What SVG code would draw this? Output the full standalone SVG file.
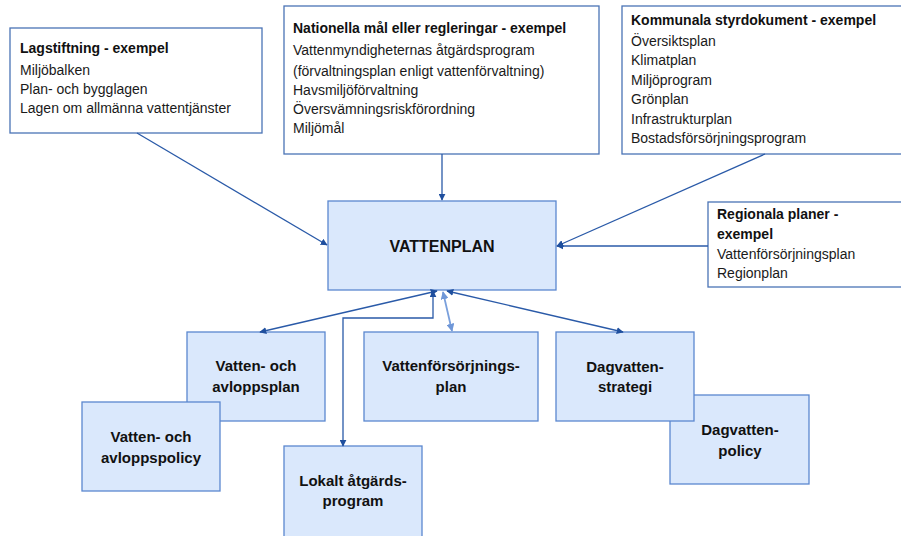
<svg xmlns="http://www.w3.org/2000/svg" width="901" height="536" viewBox="0 0 901 536">
<style>
  .info { fill: #ffffff; stroke: #4a73b5; stroke-width: 1.3; }
  .plan { fill: #dae8fc; stroke: #5b87cf; stroke-width: 1.3; }
  .t { font-family: "Liberation Sans Narrow", "Liberation Sans", Arial, sans-serif; font-size: 14px; fill: #1a1a1a; }
  .tb { font-family: "Liberation Sans Narrow", "Liberation Sans", Arial, sans-serif; font-size: 14px; font-weight: bold; fill: #111; }
  .nb { font-family: "Liberation Sans Narrow", "Liberation Sans", Arial, sans-serif; font-size: 15px; font-weight: bold; fill: #111; text-anchor: middle; }
  .c { fill: none; stroke: #2a5aa8; stroke-width: 1.3; }
  .cl { fill: none; stroke: #7aa0dc; stroke-width: 1.8; }
</style>
<defs>
  <marker id="ah" viewBox="0 0 10 10" refX="9" refY="5" markerWidth="7" markerHeight="7" markerUnits="userSpaceOnUse" orient="auto-start-reverse">
    <path d="M0,0 L10,5 L0,10 z" fill="#1f4f9e"/>
  </marker>
  <marker id="ahl" viewBox="0 0 10 10" refX="9" refY="5" markerWidth="8" markerHeight="8" markerUnits="userSpaceOnUse" orient="auto-start-reverse">
    <path d="M0,0 L10,5 L0,10 z" fill="#6f97d8"/>
  </marker>
</defs>
<rect width="901" height="536" fill="#ffffff"/>

<g id="lagstiftning">
  <rect class="info" x="10" y="28" width="252" height="105"/>
  <text class="tb" x="20" y="53">Lagstiftning  - exempel</text>
  <text class="t" x="20" y="75">Miljöbalken</text>
  <text class="t" x="20" y="94">Plan- och bygglagen</text>
  <text class="t" x="20" y="113">Lagen om allmänna vattentjänster</text>
</g>

<g id="nationella">
  <rect class="info" x="284" y="6" width="315" height="148"/>
  <text class="tb" x="293" y="33">Nationella mål eller regleringar  - exempel</text>
  <text class="t" x="293" y="55">Vattenmyndigheternas åtgärdsprogram</text>
  <text class="t" x="293" y="76">(förvaltningsplan enligt vattenförvaltning)</text>
  <text class="t" x="293" y="95">Havsmiljöförvaltning</text>
  <text class="t" x="293" y="114">Översvämningsriskförordning</text>
  <text class="t" x="293" y="133">Miljömål</text>
</g>

<g id="kommunala">
  <rect class="info" x="622" y="6" width="290" height="148"/>
  <text class="tb" x="631" y="25">Kommunala styrdokument - exempel</text>
  <text class="t" x="631" y="46">Översiktsplan</text>
  <text class="t" x="631" y="65">Klimatplan</text>
  <text class="t" x="631" y="85">Miljöprogram</text>
  <text class="t" x="631" y="104">Grönplan</text>
  <text class="t" x="631" y="124">Infrastrukturplan</text>
  <text class="t" x="631" y="143">Bostadsförsörjningsprogram</text>
</g>

<g id="regionala">
  <rect class="info" x="708" y="202" width="200" height="85"/>
  <text class="tb" x="717" y="219">Regionala  planer -</text>
  <text class="tb" x="717" y="239">exempel</text>
  <text class="t" x="717" y="259">Vattenförsörjningsplan</text>
  <text class="t" x="717" y="278">Regionplan</text>
</g>

<g id="vattenplan">
  <rect class="plan" x="328" y="201" width="228" height="89"/>
  <text class="nb" x="442" y="252" style="font-size:16px">VATTENPLAN</text>
</g>

<g id="va-plan">
  <rect class="plan" x="187" y="332" width="138" height="89"/>
  <text class="nb" x="256" y="371">Vatten- och</text>
  <text class="nb" x="256" y="392">avloppsplan</text>
</g>

<g id="va-policy">
  <rect class="plan" x="82" y="402" width="138" height="89"/>
  <text class="nb" x="151" y="442">Vatten- och</text>
  <text class="nb" x="151" y="463">avloppspolicy</text>
</g>

<g id="vattenforsorjningsplan">
  <rect class="plan" x="364" y="332" width="174" height="89"/>
  <text class="nb" x="451" y="371">Vattenförsörjnings-</text>
  <text class="nb" x="451" y="392">plan</text>
</g>

<g id="lokalt">
  <rect class="plan" x="284" y="446" width="138" height="100"/>
  <text class="nb" x="353" y="486">Lokalt åtgärds-</text>
  <text class="nb" x="353" y="506">program</text>
</g>

<g id="dagvatten-policy">
  <rect class="plan" x="670" y="395" width="139" height="89"/>
  <text class="nb" x="740" y="435">Dagvatten-</text>
  <text class="nb" x="740" y="456">policy</text>
</g>

<g id="dagvatten-strategi">
  <rect class="plan" x="556" y="332" width="138" height="89"/>
  <text class="nb" x="625" y="372">Dagvatten-</text>
  <text class="nb" x="625" y="392">strategi</text>
</g>

<g id="connectors">
  <line class="c" x1="137" y1="133" x2="327" y2="245" marker-end="url(#ah)"/>
  <line class="c" x1="442" y1="154" x2="442" y2="200" marker-end="url(#ah)"/>
  <line class="c" x1="765" y1="154" x2="557" y2="246" marker-end="url(#ah)"/>
  <line class="c" x1="708" y1="246" x2="557" y2="246" marker-end="url(#ah)"/>
  <line class="c" x1="260" y1="332" x2="437" y2="291" marker-start="url(#ah)" marker-end="url(#ah)"/>
  <path class="c" d="M343,446 V318 H433 V291" marker-start="url(#ah)" marker-end="url(#ah)"/>
  <line class="cl" x1="443" y1="292" x2="452" y2="331" marker-start="url(#ahl)" marker-end="url(#ahl)"/>
  <line class="c" x1="447" y1="291" x2="623" y2="332" marker-start="url(#ah)" marker-end="url(#ah)"/>
</g>
</svg>
